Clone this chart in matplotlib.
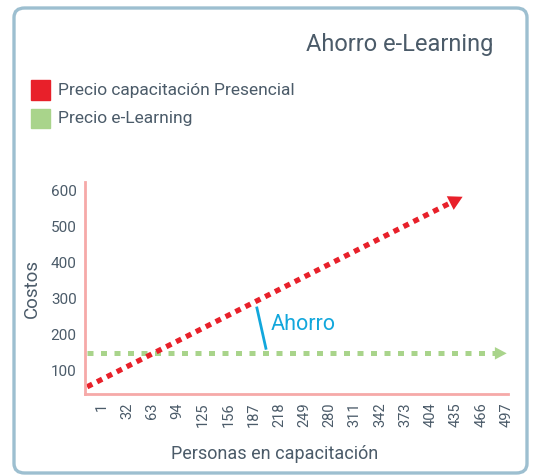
import matplotlib
matplotlib.use("Agg")
import matplotlib.pyplot as plt
from matplotlib.patches import FancyBboxPatch, Rectangle

plt.rcParams['font.family'] = ['Roboto', 'DejaVu Sans']

# data
x_ticks = list(range(1, 498, 31))
x_presencial = [-17, 443]
y_presencial = [55, 583]
x_elearning = [-17, 497]
y_elearning = [148, 148]
ahorro_line_x = [191, 202]
ahorro_line_y = [274, 162]
y_ticks = [100, 200, 300, 400, 500, 600]

red = '#e8202a'
green = '#a9d48b'
blue = '#12a7dc'
text_col = '#4b5b69'
spine_col = '#f6a9a8'

fig = plt.figure(figsize=(5.33, 4.75), dpi=100)

# frame
frame = FancyBboxPatch((14 / 533, 1 - 473 / 475), (527 - 14) / 533, (473 - 8) / 475,
                       boxstyle='round,pad=0,rounding_size=0.02',
                       transform=fig.transFigure, facecolor='none',
                       edgecolor='#9dbfd0', linewidth=2.4, zorder=-1)
fig.patches.append(frame)

fig.text(493 / 533, 1 - 44 / 475, 'Ahorro e-Learning', ha='right', va='center',
         fontsize=17, color=text_col)

# legend
for i, (lab, col) in enumerate([('Precio capacitación Presencial', red),
                                ('Precio e-Learning', green)]):
    yc = 90 + i * 28.5
    fig.patches.append(Rectangle((31 / 533, 1 - (yc + 9.5) / 475), 19 / 533, 19 / 475,
                                 transform=fig.transFigure, color=col))
    fig.text(58 / 533, 1 - yc / 475, lab, ha='left', va='center',
             fontsize=12.5, color=text_col)

ax = fig.add_axes([85 / 533, 1 - 394 / 475, (508 - 85) / 533, (394 - 182) / 475])
ax.set_xlim(-19.6, 498.6)
ax.set_ylim(35, 624)
ax.patch.set_alpha(0)

ax.plot(x_elearning[:1] + [x_elearning[1] - 8], y_elearning, color=green, lw=3.6,
        linestyle=(0, (1.2, 1.5)), dash_capstyle='butt')
ax.plot(x_presencial[:1] + [x_presencial[1] - 8], [y_presencial[0], y_presencial[1] - 9],
        color=red, lw=3.8, linestyle=(0, (1.1, 1.0)), dash_capstyle='butt')

ax.annotate('', xy=(x_elearning[1], y_elearning[1]), xytext=(x_elearning[1] - 20, y_elearning[1]),
            arrowprops=dict(arrowstyle='-|>,head_length=0.85,head_width=0.45',
                            color=green, lw=0, shrinkA=0, shrinkB=0))
ax.annotate('', xy=(x_presencial[1], y_presencial[1]),
            xytext=(x_presencial[1] - 20, y_presencial[1] - 23),
            arrowprops=dict(arrowstyle='-|>,head_length=1.0,head_width=0.55',
                            color=red, lw=0, shrinkA=0, shrinkB=0))

ax.plot(ahorro_line_x, ahorro_line_y, color=blue, lw=2)
ax.text(208, 227, 'Ahorro', color=blue, fontsize=15.5, ha='left', va='center')

ax.set_xticks(x_ticks)
ax.set_xticklabels([str(v) for v in x_ticks], rotation=90, color=text_col, fontsize=10.5)
ax.set_yticks(y_ticks)
ax.set_yticklabels([str(v) for v in y_ticks], color=text_col, fontsize=11)
ax.tick_params(length=0, pad=6)

for s in ['top', 'right']:
    ax.spines[s].set_visible(False)
for s in ['left', 'bottom']:
    ax.spines[s].set_color(spine_col)
    ax.spines[s].set_linewidth(2)

ax.set_ylabel('Costos', fontsize=13.5, color=text_col, labelpad=7)
ax.set_xlabel('Personas en capacitación', fontsize=13, color=text_col, labelpad=12)
ax.xaxis.set_label_coords((275 - 85) / 423, -0.24)

fig.savefig('out.png', dpi=100)
